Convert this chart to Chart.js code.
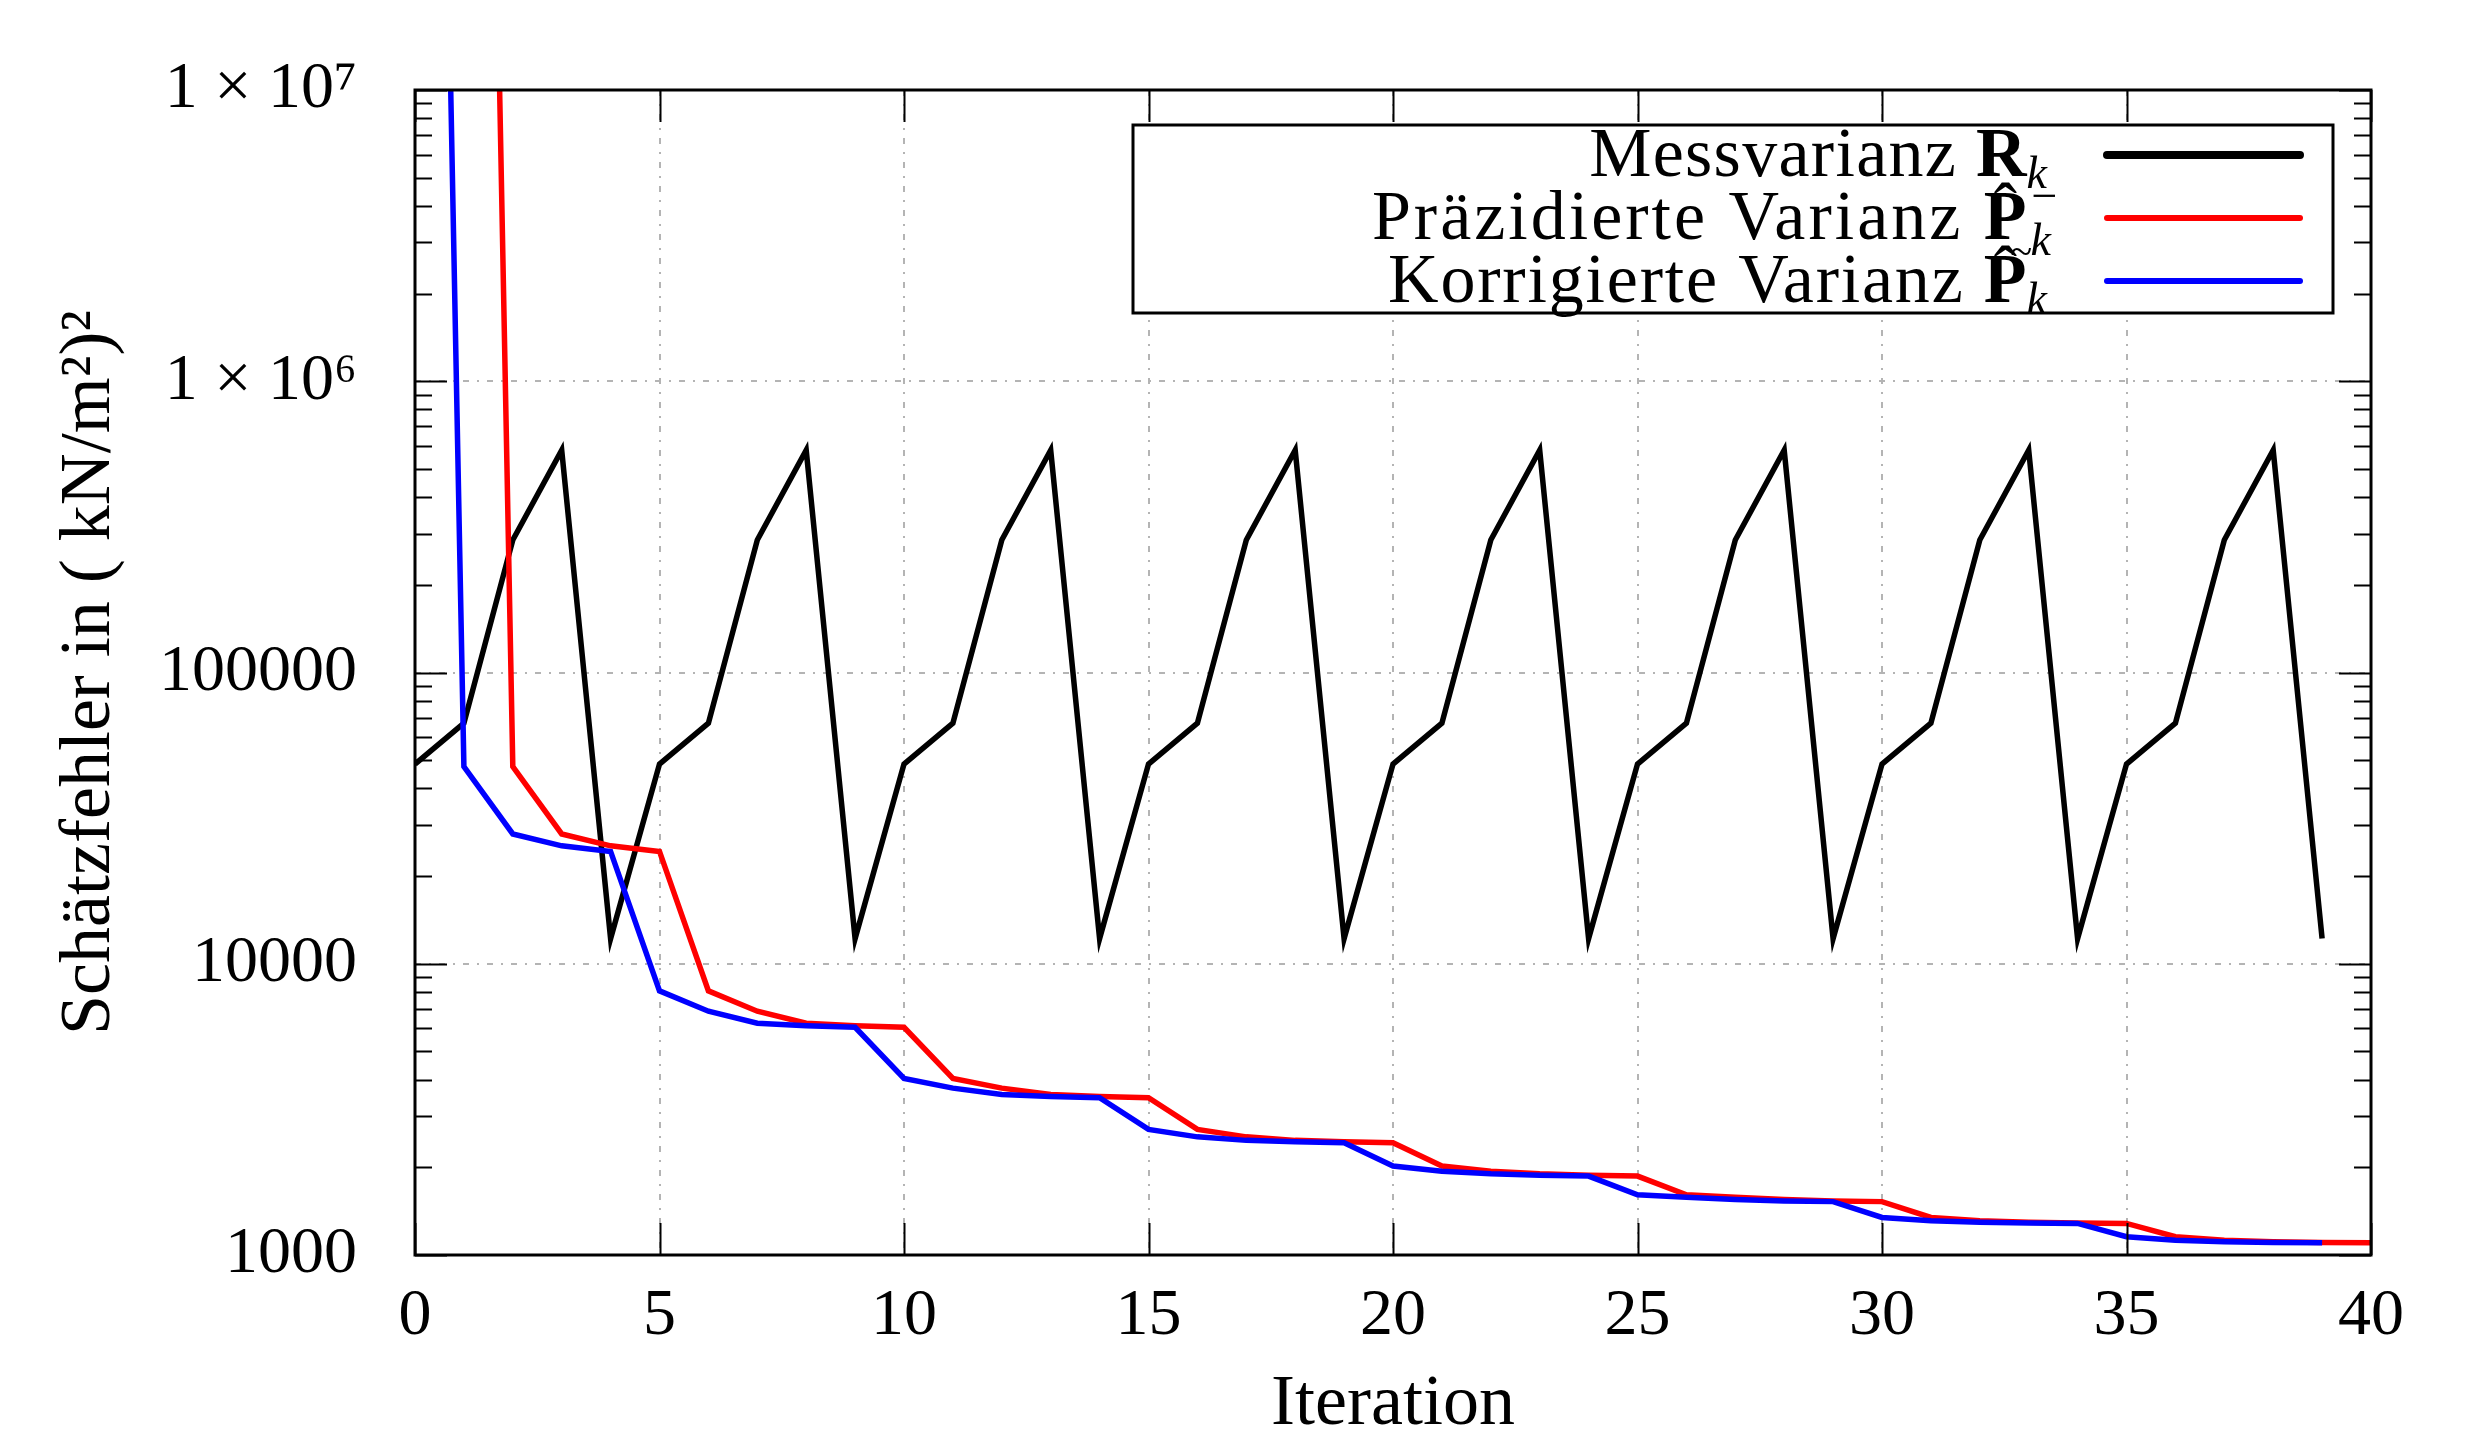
<!DOCTYPE html>
<html>
<head>
<meta charset="utf-8">
<title>Schätzfehler</title>
<script src="https://cdn.jsdelivr.net/npm/chart.js@4.4.1/dist/chart.umd.min.js"></script>
<style>
  html, body { margin: 0; padding: 0; background: #fff; }
  #wrap { width: 2475px; height: 1431px; position: relative; }
</style>
</head>
<body>
<div id="wrap"><canvas id="myChart"></canvas></div>
<script>
// Iteration index k
const iterations = [0, 1, 2, 3, 4, 5, 6, 7, 8, 9, 10, 11, 12, 13, 14, 15, 16, 17, 18, 19, 20,
    21, 22, 23, 24, 25, 26, 27, 28, 29, 30, 31, 32, 33, 34, 35, 36, 37, 38, 39, 40];

// Messvarianz R_k (k = 0..39)
const messvarianz = [48500, 67000, 285000, 580000, 12200,
    48500, 67000, 285000, 580000, 12200,
    48500, 67000, 285000, 580000, 12200,
    48500, 67000, 285000, 580000, 12200,
    48500, 67000, 285000, 580000, 12200,
    48500, 67000, 285000, 580000, 12200,
    48500, 67000, 285000, 580000, 12200,
    48500, 67000, 285000, 580000, 12200];

// Praedizierte Varianz P_k^- (k = 0..40, nothing at k = 0)
const praedVarianz = [null, 2e13, 47500, 27900, 25400, 24300, 8070, 6870, 6250, 6130,
    6050, 4040, 3740, 3560, 3500, 3470, 2700, 2545, 2475, 2450,
    2430, 2020, 1940, 1900, 1880, 1866, 1610, 1580, 1552, 1532,
    1525, 1346, 1312, 1295, 1287, 1284, 1155, 1124, 1110, 1104, 1102];

// Korrigierte Varianz P_k (k = 0..39)
const korrVarianz = [2e13, 47500, 27900, 25400, 24300, 8070, 6870, 6250, 6130, 6050,
    4040, 3740, 3560, 3500, 3470, 2700, 2545, 2475, 2450, 2430,
    2020, 1940, 1900, 1880, 1866, 1610, 1580, 1552, 1532, 1525,
    1346, 1312, 1295, 1287, 1284, 1155, 1124, 1110, 1104, 1102];

// Axis ticks
const xTickValues = [0, 5, 10, 15, 20, 25, 30, 35, 40];
const yTickValues = [1000, 10000, 100000, 1000000, 10000000];
const yTickLabels = ['1000', '10000', '100000', '1 × 10⁶', '1 × 10⁷'];

const seriesNames = ['Messvarianz', 'Präzidierte Varianz', 'Korrigierte Varianz'];

const serif = "'Liberation Serif', 'DejaVu Serif', serif";

function toPoints(values) {
    return values.map((v, i) => ({ x: iterations[i], y: v }));
}

// Draws the frame plus the inward major/minor ticks on all four sides
const frameTicks = {
    id: 'frameTicks',
    afterDatasetsDraw(chart) {
        const ctx = chart.ctx;
        const area = chart.chartArea;
        const xs = chart.scales.x;
        const ys = chart.scales.y;
        ctx.save();
        ctx.strokeStyle = '#000';
        ctx.lineWidth = 2;
        ctx.beginPath();
        // y ticks (decades long, 2..9 short)
        for (let d = 3; d <= 7; d++) {
            for (let m = 1; m <= 9; m++) {
                const v = m * Math.pow(10, d);
                if (v > 1e7) break;
                const py = Math.round(ys.getPixelForValue(v)) + 0.5;
                const len = m === 1 ? 32 : 17;
                ctx.moveTo(area.left, py);
                ctx.lineTo(area.left + len, py);
                ctx.moveTo(area.right, py);
                ctx.lineTo(area.right - len, py);
            }
        }
        // x ticks
        xTickValues.forEach(v => {
            const px = Math.round(xs.getPixelForValue(v)) + 0.5;
            ctx.moveTo(px, area.bottom);
            ctx.lineTo(px, area.bottom - 32);
            ctx.moveTo(px, area.top);
            ctx.lineTo(px, area.top + 32);
        });
        ctx.stroke();
        ctx.lineWidth = 3;
        ctx.strokeRect(area.left, area.top, area.right - area.left, area.bottom - area.top);
        ctx.restore();
    }
};

// Draws a row of text pieces so that the last piece ends at rightX
function drawParts(ctx, parts, rightX, baseY) {
    let total = 0;
    parts.forEach(p => {
        ctx.font = p.font;
        ctx.letterSpacing = (p.spacing || 0) + 'px';
        p.w = p.adv !== undefined ? p.adv : ctx.measureText(p.text).width;
        total += p.w;
    });
    let x = rightX - total;
    parts.forEach(p => {
        ctx.font = p.font;
        ctx.letterSpacing = (p.spacing || 0) + 'px';
        ctx.fillText(p.text, x + (p.dx || 0), baseY + (p.dy || 0));
        x += p.w;
    });
    ctx.letterSpacing = '0px';
}

// Legend in the gnuplot style: text right aligned, line sample on the right
const mathLegend = {
    id: 'mathLegend',
    afterDraw(chart) {
        const ctx = chart.ctx;
        const box = { left: 1133, top: 125, right: 2333, bottom: 313 };
        const textRight = 2047;
        const rowY = [155, 218, 281];
        const colors = ['#000000', '#ff0000', '#0000ff'];
        const norm = '70px ' + serif;
        const bold = 'bold 70px ' + serif;
        const ital = 'italic 46px ' + serif;

        ctx.save();
        ctx.fillStyle = '#fff';
        ctx.fillRect(box.left, box.top, box.right - box.left, box.bottom - box.top);
        ctx.strokeStyle = '#000';
        ctx.lineWidth = 3;
        ctx.strokeRect(box.left, box.top, box.right - box.left, box.bottom - box.top);

        ctx.fillStyle = '#000';
        ctx.textAlign = 'left';
        ctx.textBaseline = 'alphabetic';

        const rows = [
            [
                { text: seriesNames[0] + ' ', font: norm, spacing: 1.3 },
                { text: 'R', font: bold },
                { text: 'k', font: ital, dy: 12 }
            ],
            [
                { text: seriesNames[1] + ' ', font: norm, spacing: 3 },
                { text: 'ˆ', font: norm, adv: 0, dx: 10, dy: -8 },
                { text: 'P', font: bold },
                { text: '~', font: '40px ' + serif, adv: 0, dx: -16, dy: 26 },
                { text: '−', font: ital, adv: 0, dx: 2, dy: -28 },
                { text: 'k', font: ital, dx: 4, dy: 16 }
            ],
            [
                { text: seriesNames[2] + ' ', font: norm, spacing: 1.8 },
                { text: 'ˆ', font: norm, adv: 0, dx: 10, dy: -8 },
                { text: 'P', font: bold },
                { text: 'k', font: ital, dy: 12 }
            ]
        ];

        rows.forEach((parts, i) => {
            drawParts(ctx, parts, textRight, rowY[i] + 21);
            ctx.strokeStyle = colors[i];
            ctx.lineWidth = i === 0 ? 8 : 6;
            ctx.lineCap = 'round';
            ctx.beginPath();
            ctx.moveTo(2107, rowY[i]);
            ctx.lineTo(2300, rowY[i]);
            ctx.stroke();
        });
        ctx.restore();
    }
};

const ctx = document.getElementById('myChart').getContext('2d');
const chart = new Chart(ctx, {
    type: 'line',
    data: {
        datasets: [
            {
                label: seriesNames[2],
                data: toPoints(korrVarianz),
                borderColor: '#0000ff',
                borderWidth: 5.5,
                order: 0
            },
            {
                label: seriesNames[1],
                data: toPoints(praedVarianz),
                borderColor: '#ff0000',
                borderWidth: 5.5,
                order: 1
            },
            {
                label: seriesNames[0],
                data: toPoints(messvarianz),
                borderColor: '#000000',
                borderWidth: 5.5,
                order: 2
            }
        ]
    },
    options: {
        responsive: true,
        maintainAspectRatio: false,
        devicePixelRatio: 1,
        animation: false,
        elements: {
            point: { radius: 0 },
            line: { tension: 0, fill: false, borderJoinStyle: 'miter' }
        },
        layout: { padding: { left: 0, right: 104, top: 90, bottom: 0 } },
        plugins: {
            legend: { display: false },
            tooltip: { enabled: false }
        },
        scales: {
            x: {
                type: 'linear',
                min: 0,
                max: 40,
                afterFit: (scale) => { scale.height = 176; },
                afterBuildTicks: (scale) => { scale.ticks = xTickValues.map(v => ({ value: v })); },
                ticks: {
                    font: { family: serif, size: 66 },
                    color: '#000',
                    padding: 22,
                    maxRotation: 0
                },
                grid: { color: '#b4b4b4', lineWidth: 2, drawTicks: false },
                border: { display: false, dash: [6, 8, 2, 8] },
                title: {
                    display: true,
                    text: 'Iteration',
                    font: { family: serif, size: 72, lineHeight: 1 },
                    color: '#000',
                    padding: { top: 0, bottom: -10 }
                }
            },
            y: {
                type: 'logarithmic',
                min: 1000,
                max: 10000000,
                afterFit: (scale) => {
                    scale.width = 415;
                    // tick padding is horizontal only, keep it out of the vertical layout
                    scale.paddingTop = 40;
                    scale.paddingBottom = 40;
                },
                afterBuildTicks: (scale) => { scale.ticks = yTickValues.map(v => ({ value: v })); },
                ticks: {
                    font: { family: serif, size: 66 },
                    color: '#000',
                    padding: 58,
                    callback: (value) => yTickLabels[yTickValues.indexOf(value)]
                },
                grid: { color: '#b4b4b4', lineWidth: 2, drawTicks: false },
                border: { display: false, dash: [6, 8, 2, 8] },
                title: {
                    display: true,
                    text: 'Schätzfehler in ( kN/m²)²',
                    font: { family: serif, size: 72, lineHeight: 1.2 },
                    color: '#000',
                    padding: { top: 47, bottom: 0 }
                }
            }
        }
    },
    plugins: [frameTicks, mathLegend]
});
</script>
</body>
</html>
